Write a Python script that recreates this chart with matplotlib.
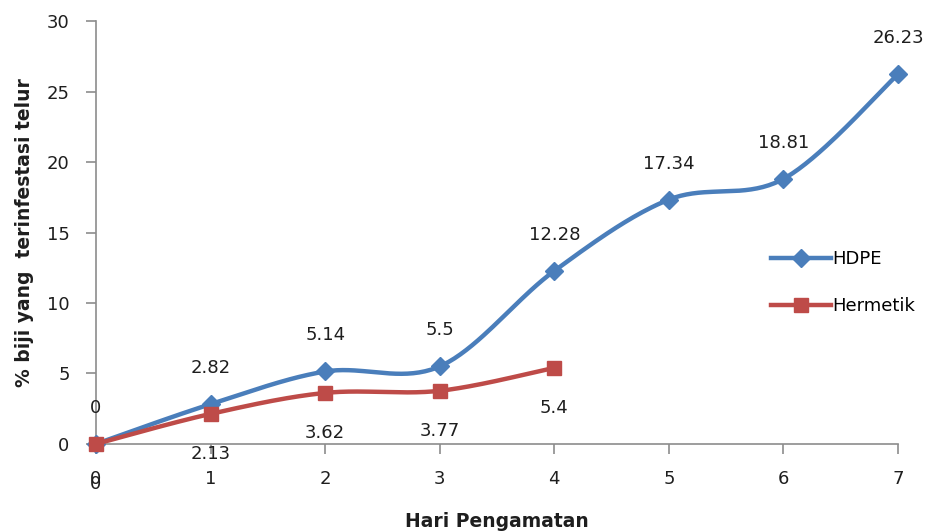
import numpy as np
import matplotlib
matplotlib.use("Agg")
import matplotlib.pyplot as plt
from matplotlib.lines import Line2D

days = [0, 1, 2, 3, 4, 5, 6, 7]
hdpe = [0, 2.82, 5.14, 5.5, 12.28, 17.34, 18.81, 26.23]
hermetik_days = [0, 1, 2, 3, 4]
hermetik = [0, 2.13, 3.62, 3.77, 5.4]
yticks = [0, 5, 10, 15, 20, 25, 30]

BLUE = "#4A7EBB"
RED = "#BE4B48"
GREY = "#8C8C8C"
TEXT = "#1E1E1E"


def smooth(x, y, n=40):
    """Bezier smoothing through every point (Catmull-Rom style, like spreadsheet charts)."""
    p = np.column_stack([x, y]).astype(float)
    pts = np.vstack([p[0], p, p[-1]])
    out = []
    for i in range(1, len(pts) - 2):
        p0, p1, p2, p3 = pts[i - 1], pts[i], pts[i + 1], pts[i + 2]
        c1 = p1 + (p2 - p0) / 6.0
        c2 = p2 - (p3 - p1) / 6.0
        t = np.linspace(0, 1, n)[:, None]
        seg = ((1 - t) ** 3) * p1 + 3 * ((1 - t) ** 2) * t * c1 + 3 * (1 - t) * t ** 2 * c2 + t ** 3 * p2
        out.append(seg if i == 1 else seg[1:])
    s = np.vstack(out)
    return s[:, 0], s[:, 1]


fig = plt.figure(figsize=(9.32, 5.31), dpi=100)
ax = fig.add_axes([0.103, 0.164, 0.8605, 0.796])

hx, hy = smooth(days, hdpe)
ax.plot(hx, hy, color=BLUE, lw=3.2, solid_capstyle="round", clip_on=False, zorder=3)
ax.plot(days, hdpe, ls="none", marker="D", ms=9, color=BLUE, clip_on=False, zorder=4)

rx, ry = smooth(hermetik_days, hermetik)
ax.plot(rx, ry, color=RED, lw=3.2, solid_capstyle="round", clip_on=False, zorder=5)
ax.plot(hermetik_days, hermetik, ls="none", marker="s", ms=10, color=RED, clip_on=False, zorder=6)

label_font = dict(fontsize=13, color=TEXT, family="DejaVu Sans")
for x, v in zip(days, hdpe):
    ax.annotate(f"{v:g}", (x, v), xytext=(0, 36), textcoords="offset pixels",
                ha="center", va="center", **label_font)
for x, v in zip(hermetik_days, hermetik):
    ax.annotate(f"{v:g}", (x, v), xytext=(0, -40), textcoords="offset pixels",
                ha="center", va="center", **label_font)

ax.set_xlim(0, 7)
ax.set_ylim(0, 30)
ax.set_xticks(days)
ax.set_yticks(yticks)
ax.tick_params(axis="both", colors=GREY, labelcolor=TEXT, labelsize=13, width=1.2, length=7)
ax.tick_params(axis="x", pad=12)
ax.tick_params(axis="y", pad=12)
for s in ("top", "right"):
    ax.spines[s].set_visible(False)
for s in ("left", "bottom"):
    ax.spines[s].set_color(GREY)
    ax.spines[s].set_linewidth(1.2)

ax.set_xlabel("Hari Pengamatan", fontsize=13.5, fontweight="bold", color=TEXT, labelpad=17)
ax.set_ylabel("% biji yang  terinfestasi telur", fontsize=13.5, fontweight="bold", color=TEXT, labelpad=9)

handles = [
    Line2D([], [], color=BLUE, lw=3.2, marker="D", ms=9),
    Line2D([], [], color=RED, lw=3.2, marker="s", ms=10),
]
fig.legend(handles, ["HDPE", "Hermetik"], loc="center left", bbox_to_anchor=(0.81, 0.468),
           frameon=False, fontsize=13, handlelength=3.3, handletextpad=0.1, labelspacing=1.6)

fig.savefig("out.png", dpi=100)
